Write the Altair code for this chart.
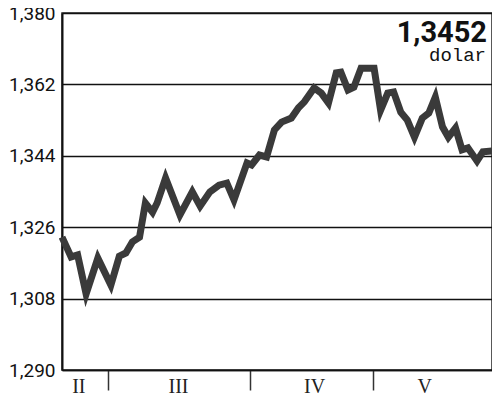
import altair as alt
import pandas as pd

# trading-day position (0 = first session shown) and EUR/USD rate
days = [0, 1.4, 2.4, 3.7, 5.5, 7.5, 8.8, 9.8, 10.8, 11.9, 12.8, 13.9, 14.6, 15.9,
        18.1, 20.0, 21.2, 22.7, 24.1, 25.3, 26.4, 28.4, 29.1, 30.3, 31.4, 32.6,
        33.7, 35.2, 36.3, 37.2, 38.7, 39.8, 40.9, 42.1, 42.8, 43.9, 44.8, 45.9,
        47.9, 48.9, 50.0, 50.9, 52.0, 53.0, 54.1, 55.3, 56.3, 57.3, 58.4, 59.3,
        60.4, 61.4, 62.3, 63.7, 64.6, 66.0]
rates = [1.3235, 1.3185, 1.3190, 1.3092, 1.3182, 1.3114, 1.3187, 1.3195, 1.3223,
         1.3235, 1.3321, 1.3298, 1.3321, 1.3384, 1.3291, 1.3349, 1.3313, 1.3349,
         1.3366, 1.3371, 1.3329, 1.3422, 1.3417, 1.3442, 1.3437, 1.3505, 1.3525,
         1.3535, 1.3561, 1.3576, 1.3611, 1.3598, 1.3573, 1.3649, 1.3651, 1.3606,
         1.3613, 1.3661, 1.3661, 1.3555, 1.3598, 1.3601, 1.3550, 1.3530, 1.3487,
         1.3535, 1.3548, 1.3588, 1.3513, 1.3487, 1.3510, 1.3455, 1.3460, 1.3427,
         1.3450, 1.3452]

month_names = ["II", "III", "IV", "V"]
month_centers = [2.5, 17.8, 38.7, 55.6]
month_bounds = [7.1, 28.8, 47.7]
y_ticks = [1.290, 1.308, 1.326, 1.344, 1.362, 1.380]
last_rate_label = "1,3452"
unit_label = "dolar"

df = pd.DataFrame({"day": days, "rate": rates})

parts = [f"datum.value == {c} ? '{n}'" for c, n in zip(month_centers, month_names)]
x_label_expr = " : ".join(parts) + " : ''"
bounds_str = ", ".join(str(b) for b in month_bounds)
tick_test = f"indexof([{bounds_str}], datum.value) >= 0"

x_enc = alt.X(
    "day:Q",
    scale=alt.Scale(domain=[0, 66], nice=False, zero=False),
    axis=alt.Axis(
        values=sorted(month_centers + month_bounds),
        labelExpr=x_label_expr,
        title=None,
        grid=False,
        tickSize=20,
        tickOpacity={"condition": {"test": tick_test, "value": 1}, "value": 0},
        tickColor="#333333",
        tickWidth=1.5,
        labelPadding=-14,
        labelFont="Liberation Serif",
        labelFontSize=20,
        labelColor="#222222",
        labelFlush=False,
        labelOverlap=False,
        domainColor="#111111",
        domainWidth=1.5,
    ),
)

y_enc = alt.Y(
    "rate:Q",
    scale=alt.Scale(domain=[1.29, 1.38], nice=False, zero=False),
    axis=alt.Axis(
        values=y_ticks,
        labelExpr="replace(format(datum.value, '.3f'), '.', ',')",
        title=None,
        ticks=False,
        grid=True,
        gridColor="#111111",
        gridWidth=1.3,
        domainColor="#111111",
        domainWidth=2,
        labelFont="Roboto",
        labelFontSize=19,
        labelColor="#111111",
        labelPadding=7,
        labelFlush=False,
        labelOverlap=False,
    ),
)

line = alt.Chart(df).mark_line(
    color="#3a3a3a", strokeWidth=7, strokeJoin="miter", strokeCap="butt"
).encode(x=x_enc, y=y_enc)

big = alt.Chart(pd.DataFrame({"t": [last_rate_label]})).mark_text(
    align="right", baseline="alphabetic", font="Roboto", fontSize=29,
    fontWeight="bold", color="#111111"
).encode(x=alt.value(425), y=alt.value(29), text="t:N")

unit = alt.Chart(pd.DataFrame({"t": [unit_label]})).mark_text(
    align="right", baseline="alphabetic", font="Liberation Mono", fontSize=19,
    color="#111111"
).encode(x=alt.value(424), y=alt.value(48), text="t:N")

chart = alt.layer(line, big, unit).properties(
    width=430,
    height=357,
    autosize=alt.AutoSizeParams(type="none"),
    padding={"left": 54, "top": 5, "right": 0, "bottom": 23},
    background="white",
).configure_view(stroke="#222222", strokeWidth=1.5)

chart.save("out.html", embed_options={"renderer": "svg", "actions": False})
